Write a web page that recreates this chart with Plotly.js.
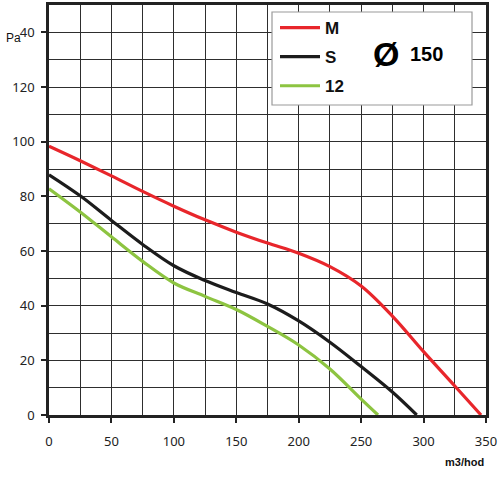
<!DOCTYPE html>
<html><head><meta charset="utf-8">
<script src="https://cdn.plot.ly/plotly-3.0.1.min.js"></script>
<style>body{margin:0;background:#fff}#c{width:500px;height:500px}</style>
</head><body><div id="c"></div>
<script>
// Airflow (m3/hod) vs pressure (Pa)
const xM  = [0, 25, 50, 75, 100, 125, 150, 175, 200, 225, 250, 275, 300, 325, 346];
const yM  = [98.3, 93.0, 87.5, 81.8, 76.4, 71.4, 66.9, 62.9, 59.2, 54.3, 47.2, 36.2, 23.2, 10.6, 0];
const xS  = [0, 25, 50, 75, 100, 125, 150, 175, 200, 225, 250, 275, 294.5];
const yS  = [87.9, 80.2, 71.2, 62.4, 54.6, 49.2, 44.8, 40.6, 34.4, 26.6, 17.7, 8.4, 0];
const x12 = [0, 25, 50, 75, 100, 125, 150, 175, 200, 225, 250, 263.5];
const y12 = [82.8, 74.3, 65.2, 56.2, 48.3, 43.4, 38.6, 32.4, 25.6, 16.8, 5.8, 0];
const names = ["M", "S", "12"];
const colors = ["#e8262b", "#1c1c1c", "#8dc441"];

const series = [[xM, yM], [xS, yS], [x12, y12]];
const traces = series.map((s, i) => ({
  x: s[0], y: s[1], name: names[i], type: "scatter", mode: "lines",
  line: {color: colors[i], width: 3.2, shape: "spline", smoothing: 1},
  legendgroup: "g" + i
}));

const tickFont = {family: "Noto Sans, Open Sans, sans-serif", size: 13, color: "#222"};
const gridC = "#2e2e2e";
const layout = {
  width: 500, height: 500,
  margin: {l: 49, r: 14, t: 5, b: 85},
  paper_bgcolor: "#fff", plot_bgcolor: "#fff",
  showlegend: true,
  legend: {
    x: (275 - 49) / 437, y: (415 - 10) / 410, xanchor: "left", yanchor: "top",
    bgcolor: "rgba(0,0,0,0)", borderwidth: 0,
    traceorder: "grouped", tracegroupgap: 4, itemwidth: 40,
    font: {family: "Liberation Sans, Arial, sans-serif", size: 17, color: "#111", weight: "bold"}
  },
  xaxis: {
    range: [0, 350], dtick: 50, tick0: 0,
    showgrid: true, gridcolor: gridC, gridwidth: 1,
    minor: {dtick: 25, showgrid: true, gridcolor: gridC, gridwidth: 1},
    ticks: "outside", ticklen: 5, tickwidth: 2, tickcolor: "#222",
    ticklabelstandoff: 8,
    showline: true, mirror: true, linecolor: "#222", linewidth: 2.5,
    zeroline: false, tickfont: tickFont, fixedrange: true
  },
  yaxis: {
    range: [0, 150], dtick: 20, tick0: 0,
    showgrid: true, gridcolor: gridC, gridwidth: 1,
    minor: {dtick: 10, showgrid: true, gridcolor: gridC, gridwidth: 1},
    ticks: "outside", ticklen: 5, tickwidth: 2, tickcolor: "#222",
    ticklabelstandoff: 4,
    labelalias: {"140": "40"},
    showline: true, mirror: true, linecolor: "#222", linewidth: 2.5,
    zeroline: false, tickfont: tickFont, fixedrange: true
  },
  shapes: [{
    type: "rect", xref: "paper", yref: "paper", layer: "above",
    x0: (272 - 49) / 437, x1: (472 - 49) / 437,
    y0: (415 - 105) / 410, y1: (415 - 12) / 410,
    fillcolor: "#fff", line: {color: "#9a9a9a", width: 1.2}
  }],
  annotations: [
    {text: "Ø", xref: "paper", yref: "paper", x: (386 - 49) / 437, y: (415 - 54) / 410,
     showarrow: false, xanchor: "center", yanchor: "middle",
     font: {family: "Liberation Sans, Arial, sans-serif", size: 34, color: "#000", weight: "bold"}},
    {text: "150", xref: "paper", yref: "paper", x: (426 - 49) / 437, y: (415 - 54) / 410,
     showarrow: false, xanchor: "center", yanchor: "middle",
     font: {family: "Liberation Sans, Arial, sans-serif", size: 20, color: "#000", weight: "bold"}},
    {text: "m3/hod", xref: "paper", yref: "paper", x: (464 - 49) / 437, y: (415 - 462) / 410,
     showarrow: false, xanchor: "center", yanchor: "middle",
     font: {family: "Liberation Sans, Arial, sans-serif", size: 11, color: "#111", weight: "bold"}},
    {text: "Pa", xref: "paper", yref: "paper", x: (13 - 49) / 437, y: (415 - 38) / 410,
     showarrow: false, xanchor: "center", yanchor: "middle",
     font: {family: "Liberation Sans, Arial, sans-serif", size: 12, color: "#111"}}
  ]
};
Plotly.newPlot("c", traces, layout, {displayModeBar: false});
</script></body></html>
